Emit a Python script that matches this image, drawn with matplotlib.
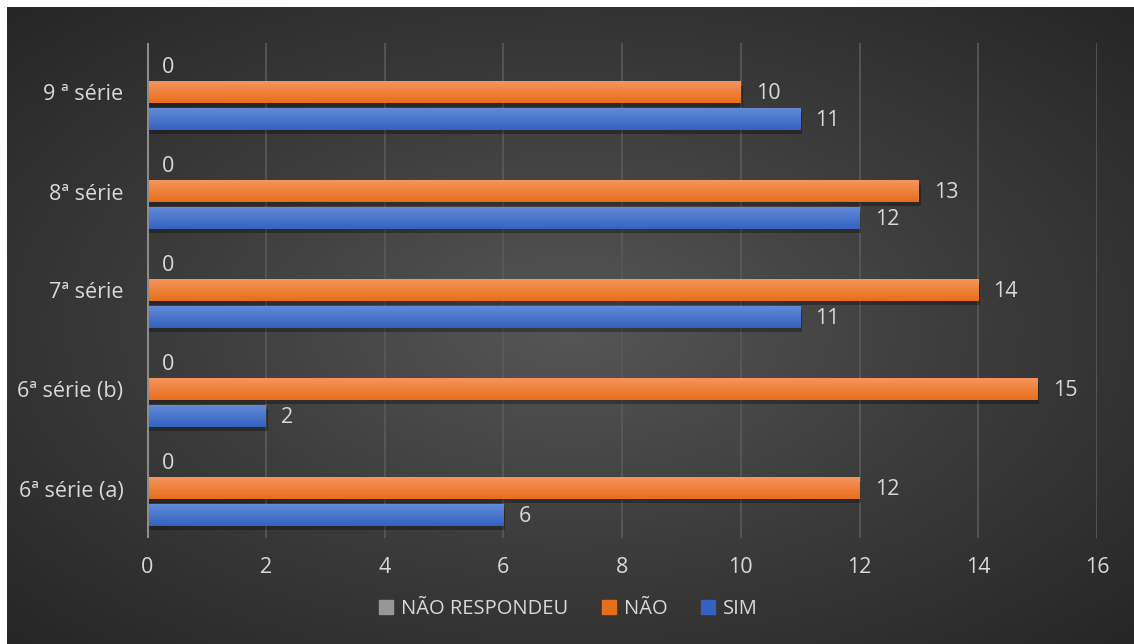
import numpy as np
import matplotlib.pyplot as plt
from matplotlib.colors import LinearSegmentedColormap
from matplotlib.patches import Rectangle
from matplotlib.lines import Line2D

plt.rcParams['font.family'] = ['Open Sans', 'DejaVu Sans']

# dados do grafico
series = ["6ª série (a)", "6ª série (b)", "7ª série", "8ª série", "9 ª série"]
sim = [6, 2, 11, 12, 11]
nao = [12, 15, 14, 13, 10]
nao_respondeu = [0, 0, 0, 0, 0]
legenda = ["NÃO RESPONDEU", "NÃO", "SIM"]

cores = {
    "NÃO RESPONDEU": ("#bdbdbd", "#979797"),
    "NÃO": ("#f5955c", "#e86e1c"),
    "SIM": ("#628ad8", "#3462bf"),
}
texto = "#d9d9d9"
fs = 15.5

W, H = 1134, 644
fig = plt.figure(figsize=(W / 100, H / 100), dpi=100, facecolor="white")

# fundo escuro com degrade radial
bg = fig.add_axes([7 / W, 0, 1 - 7 / W, 1 - 7 / H])
bg.set_axis_off()
yy, xx = np.mgrid[0:1:300j, 0:1:500j]
r = np.sqrt(((xx - 0.5) / 0.75) ** 2 + ((yy - 0.5) / 0.75) ** 2)
r = np.clip(r / r.max(), 0, 1)
cmap_bg = LinearSegmentedColormap.from_list("bg", ["#565656", "#3c3c3c", "#262626"])
bg.imshow(r, cmap=cmap_bg, extent=[0, 1, 0, 1], aspect="auto", vmin=0, vmax=1)

ax = fig.add_axes([147 / W, 1 - 538 / H, (1097 - 147) / W, (538 - 43) / H])
ax.patch.set_alpha(0)

h = 0.22
passo = 0.27
grad = np.linspace(0, 1, 50).reshape(-1, 1)


def barra(v, y, nome):
    c_top, c_bot = cores[nome]
    cm = LinearSegmentedColormap.from_list(nome, [c_bot, c_top])
    if v > 0:
        # sombra
        ax.add_patch(Rectangle((0.03, y - h / 2 - 0.04), v, h, color="black",
                               alpha=0.3, lw=0, zorder=2))
        ax.imshow(grad, cmap=cm, extent=[0, v, y - h / 2, y + h / 2],
                  aspect="auto", origin="lower", zorder=3)
    ax.annotate(str(v), (v, y), xytext=(11, -1), textcoords="offset points",
                va="center", ha="left", color=texto, fontsize=fs)


for i in range(len(series)):
    barra(nao_respondeu[i], i + passo, "NÃO RESPONDEU")
    barra(nao[i], i, "NÃO")
    barra(sim[i], i - passo, "SIM")

ax.set_xlim(0, 16)
ax.set_ylim(-0.5, 4.5)
ax.set_xticks(range(0, 17, 2))
ax.set_yticks(range(len(series)))
ax.set_yticklabels(series)
ax.tick_params(colors=texto, labelsize=fs, length=0)
ax.tick_params(axis="x", pad=14)
ax.tick_params(axis="y", pad=17)
for s in ax.spines.values():
    s.set_visible(False)
ax.grid(axis="x", color="#5a5a5a", lw=1.2, zorder=0)
ax.set_axisbelow(True)
ax.axvline(0, color="#8c8c8c", lw=2.2, zorder=4)

handles = [Line2D([], [], marker="s", ls="", markersize=10,
                  markerfacecolor=cores[n][1], markeredgecolor=cores[n][1])
           for n in legenda]
fig.legend(handles, legenda, loc="center", bbox_to_anchor=(0.5, 1 - 609 / H),
           ncol=3, frameon=False, fontsize=fs - 1, labelcolor=texto,
           handletextpad=0.25, columnspacing=1.5, handlelength=1.0)

fig.savefig("out.png", dpi=100, facecolor="white")
